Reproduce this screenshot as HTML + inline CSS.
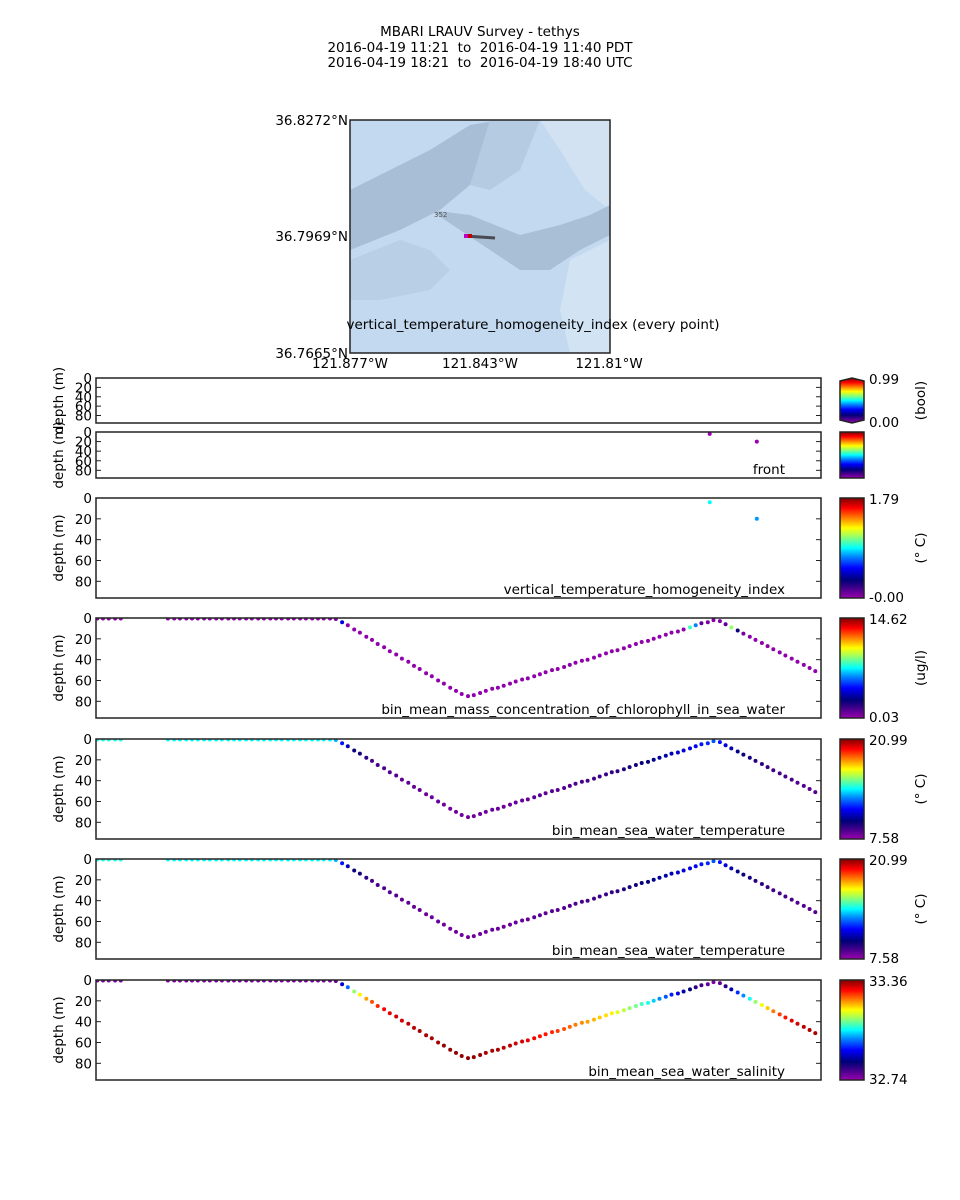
<!DOCTYPE html>
<html><head><meta charset="utf-8">
<style>
html,body{margin:0;padding:0;background:#fff;}
svg{display:block;font-family:"DejaVu Sans","Liberation Sans",sans-serif;}
</style></head>
<body>
<svg id="fig" width="960" height="1200" viewBox="0 0 960 1200" xmlns="http://www.w3.org/2000/svg">
<defs>
<linearGradient id="cmap" x1="0" y1="1" x2="0" y2="0">
<stop offset="0" stop-color="#9a00b0"/><stop offset="0.1" stop-color="#40008a"/><stop offset="0.18" stop-color="#000078"/>
<stop offset="0.3" stop-color="#0000ff"/><stop offset="0.42" stop-color="#0090ff"/><stop offset="0.5" stop-color="#00ffff"/>
<stop offset="0.62" stop-color="#a0ff60"/><stop offset="0.7" stop-color="#ffff00"/><stop offset="0.8" stop-color="#ff8000"/>
<stop offset="0.9" stop-color="#ff0000"/><stop offset="1" stop-color="#800000"/>
</linearGradient>
<clipPath id="mapclip"><rect x="350" y="120" width="260" height="233"/></clipPath>
</defs>
<g font-size="13.5" text-anchor="middle" fill="#000">
<text x="480" y="36">MBARI LRAUV Survey - tethys</text>
<text x="480" y="52">2016-04-19 11:21&#160; to &#160;2016-04-19 11:40 PDT</text>
<text x="480" y="67">2016-04-19 18:21&#160; to &#160;2016-04-19 18:40 UTC</text>
</g>
<g>
<g clip-path="url(#mapclip)">
<rect x="350" y="120" width="260" height="233" fill="#c3d9ef"/>
<polygon points="540,120 610,120 610,210 585,190 560,150" fill="#d3e2f3"/>
<polygon points="350,190 390,170 430,150 470,125 500,120 520,150 470,185 440,210 400,230 350,250" fill="#a7bed6"/>
<polygon points="430,210 470,215 520,235 560,225 590,215 610,205 610,235 580,250 550,270 520,270 490,250 460,230" fill="#a9bfd6"/>
<polygon points="350,260 400,240 430,250 450,270 430,290 380,300 350,300" fill="#b8cfe6"/>
<polygon points="570,260 610,240 610,353 570,353 560,310" fill="#d2e3f4"/>
<polygon points="490,120 540,120 520,170 490,190 470,185" fill="#b5cbe2"/>
</g>
<rect x="350" y="120" width="260" height="233" fill="none" stroke="#222" stroke-width="1.5"/>
<text x="434" y="217" font-size="7" fill="#555">352</text>
<line x1="465" y1="236" x2="495" y2="238" stroke="#4a4a55" stroke-width="3"/>
<rect x="464" y="234" width="4" height="4" fill="#c000c0"/><rect x="468" y="234" width="4" height="4" fill="#c00000"/>
<g font-size="13.5" fill="#000">
<text x="348" y="125" text-anchor="end">36.8272°N</text>
<text x="348" y="241" text-anchor="end">36.7969°N</text>
<text x="348" y="358" text-anchor="end">36.7665°N</text>
<text x="350" y="368" text-anchor="middle">121.877°W</text>
<text x="480" y="368" text-anchor="middle">121.843°W</text>
<text x="609" y="368" text-anchor="middle">121.81°W</text>
<text x="533" y="329" text-anchor="middle">vertical_temperature_homogeneity_index (every point)</text>
</g>
</g>
<g id="panels"></g>
</svg>
<script>
// elapsed seconds from 11:21 PDT
const times = [2,11,20,30,39,
113,123,132,142,151,160,170,179,189,198,208,217,226,236,245,255,264,274,283,292,302,311,321,330,340,349,358,368,377,
387,396,406,415,425,434,443,453,462,472,481,491,500,509,519,528,538,547,557,566,575,585,
594,604,613,623,632,641,651,660,670,679,689,698,707,717,726,736,745,754,764,773,783,792,802,811,820,830,839,849,858,868,877,886,896,905,915,924,934,943,952,962,971,
981,990,999,1009,1018,1028,1037,1047,1056,1065,1075,1084,1094,1103,1113,1122,1131];
const depths = [0.5,0.5,0.5,0.5,0.5,
0.5,0.5,0.5,0.5,0.5,0.5,0.5,0.5,0.5,0.5,0.5,0.5,0.5,0.5,0.5,0.5,0.5,0.5,0.5,0.5,0.5,0.5,0.5,0.5,0.5,0.5,0.5,0.5,1,
4,7,11,14,18,21,25,28,32,35,39,42,46,49,53,56,60,63,67,70,73,75,
74,72,70,68,67,65,63,61,59,58,56,54,52,50,49,47,45,43,41,40,38,36,34,32,31,29,27,25,23,22,20,18,16,14,13,11,9,7,5,4,2,
3,6,9,12,15,18,21,24,27,30,33,36,39,42,45,48,51];
const chl = [0.2,0.2,0.2,0.2,0.2,
0.2,0.2,0.2,0.2,0.2,0.2,0.2,0.2,0.2,0.2,0.2,0.2,0.2,0.2,0.2,0.2,0.2,0.2,0.2,0.2,0.2,0.2,0.2,0.2,0.2,0.2,0.2,0.2,0.4,
4.0,0.2,0.2,0.2,0.2,0.2,0.2,0.2,0.2,0.2,0.2,0.2,0.2,0.2,0.2,0.2,0.2,0.2,0.2,0.2,0.2,0.2,
0.2,0.2,0.2,0.2,0.2,0.2,0.2,0.2,0.2,0.2,0.2,0.2,0.2,0.2,0.2,0.2,0.2,0.2,0.2,0.2,0.2,0.2,0.2,0.2,0.2,0.2,0.2,0.2,0.2,0.2,0.2,0.2,0.2,0.2,0.2,0.3,8.0,6.0,1.0,0.6,0.4,
0.4,1.0,9.0,2.5,0.6,0.3,0.2,0.2,0.2,0.2,0.2,0.2,0.2,0.2,0.2,0.2,0.2];
const temp = [14.5,14.5,14.5,14.5,14.5,
14.3,14.3,14.3,14.3,14.3,14.3,14.3,14.3,14.3,14.3,14.3,14.3,14.3,14.3,14.3,14.3,14.3,14.3,14.3,14.3,14.3,14.3,14.3,14.3,14.3,14.3,14.3,14.3,13.5,
11.8,10.8,9.8,9.6,9.2,8.9,8.8,8.7,8.6,8.6,8.5,8.5,8.4,8.4,8.3,8.3,8.3,8.2,8.2,8.2,8.2,8.2,
8.2,8.2,8.2,8.3,8.3,8.3,8.3,8.4,8.4,8.4,8.5,8.5,8.5,8.6,8.6,8.6,8.7,8.7,8.8,8.8,8.9,8.9,9.0,9.1,9.2,9.4,9.5,9.7,9.9,10.1,10.3,10.5,10.6,10.8,11.0,11.1,11.3,11.5,11.8,12.0,12.5,
11.8,11.2,10.7,10.2,9.8,9.6,9.4,9.2,9.0,9.0,8.9,8.8,8.8,8.7,8.7,8.6,8.6];
const sal = [32.76,32.76,32.76,32.76,32.76,
32.76,32.76,32.76,32.76,32.76,32.76,32.76,32.76,32.76,32.76,32.76,32.76,32.76,32.76,32.76,32.76,32.76,32.76,32.76,32.76,32.76,32.76,32.76,32.76,32.76,32.76,32.76,32.76,32.78,
32.90,32.98,33.12,33.18,33.22,33.26,33.28,33.30,33.31,33.32,33.32,33.33,33.33,33.34,33.34,33.34,33.34,33.35,33.35,33.35,33.35,33.35,
33.35,33.35,33.34,33.34,33.34,33.33,33.33,33.32,33.32,33.31,33.30,33.29,33.29,33.28,33.27,33.26,33.25,33.24,33.23,33.22,33.21,33.20,33.19,33.18,33.16,33.14,33.12,33.10,33.08,33.06,33.03,33.00,32.97,32.94,32.91,32.88,32.85,32.82,32.80,32.78,32.76,
32.78,32.82,32.88,32.95,33.00,33.06,33.12,33.17,33.20,33.24,33.27,33.29,33.31,33.32,33.33,33.34,33.34];
const frontTimes = [965,1039];
const frontDepths = [4,20];
const frontVals = [0.0,0.0];
const vthiVals = [0.9,0.76];
const depthTicks = [0,20,40,60,80];

const svgNS = "http://www.w3.org/2000/svg";
const root = document.getElementById('panels');
const X0 = 96, X1 = 821, TMAX = 1140, DMAX = 96;
const stops = [[0,[154,0,176]],[0.1,[64,0,138]],[0.18,[0,0,120]],[0.3,[0,0,255]],[0.42,[0,144,255]],[0.5,[0,255,255]],[0.62,[160,255,96]],[0.7,[255,255,0]],[0.8,[255,128,0]],[0.9,[255,0,0]],[1,[128,0,0]]];
function cmap(f){f=Math.max(0,Math.min(1,f));for(let i=1;i<stops.length;i++){if(f<=stops[i][0]){const a=stops[i-1],b=stops[i];const u=(f-a[0])/(b[0]-a[0]);const c=a[1].map((v,k)=>Math.round(v+(b[1][k]-v)*u));return `rgb(${c[0]},${c[1]},${c[2]})`;}}return 'rgb(128,0,0)';}
function xScale(t){return X0+(t/TMAX)*(X1-X0);}
function mk(tag,attrs,parent){const e=document.createElementNS(svgNS,tag);for(const k in attrs)e.setAttribute(k,attrs[k]);(parent||root).appendChild(e);return e;}

const panels = [
 {name:'panel-bool',y:378,h:45,small:true,label:'',cb:{min:'0.99',max:'0.00',unit:'(bool)',arrows:true},series:null},
 {name:'panel-front',y:432,h:46,small:true,label:'front',cb:{},series:{t:frontTimes,d:frontDepths,v:frontVals,lo:0,hi:1}},
 {name:'panel-vthi',y:498,h:100,label:'vertical_temperature_homogeneity_index',cb:{min:'1.79',max:'-0.00',unit:'(\u00b0 C)'},series:{t:frontTimes,d:frontDepths,v:vthiVals,lo:0,hi:1.79}},
 {name:'panel-chlorophyll',y:618,h:100,label:'bin_mean_mass_concentration_of_chlorophyll_in_sea_water',cb:{min:'14.62',max:'0.03',unit:'(ug/l)'},series:{t:times,d:depths,v:chl,lo:0.03,hi:14.62}},
 {name:'panel-temperature-1',y:739,h:100,label:'bin_mean_sea_water_temperature',cb:{min:'20.99',max:'7.58',unit:'(\u00b0 C)'},series:{t:times,d:depths,v:temp,lo:7.58,hi:20.99}},
 {name:'panel-temperature-2',y:859,h:100,label:'bin_mean_sea_water_temperature',cb:{min:'20.99',max:'7.58',unit:'(\u00b0 C)'},series:{t:times,d:depths,v:temp,lo:7.58,hi:20.99}},
 {name:'panel-salinity',y:980,h:100,label:'bin_mean_sea_water_salinity',cb:{min:'33.36',max:'32.74',unit:''},series:{t:times,d:depths,v:sal,lo:32.74,hi:33.36}}
];

panels.forEach((p,pi)=>{
  const g = mk('g',{});
  
  
  const yS = d => p.y + (d/DMAX)*p.h;
  const cid = 'clip'+pi;
  const cp = mk('clipPath',{id:cid},g); mk('rect',{x:X0,y:p.y,width:X1-X0,height:p.h},cp);
  depthTicks.forEach(d=>{
    const yy=yS(d);
    mk('line',{x1:X0,y1:yy,x2:X0+5,y2:yy,stroke:'#222','stroke-width':1},g);
    mk('line',{x1:X1-5,y1:yy,x2:X1,y2:yy,stroke:'#222','stroke-width':1},g);
    const t=mk('text',{x:X0-4,y:yy+5,'text-anchor':'end','font-size':13.5},g);
    t.textContent=d;
    
    
  });
  const yl = mk('text',{x:0,y:0,'text-anchor':'middle','font-size':13.5,transform:`translate(63,${p.y+p.h/2}) rotate(-90)`},g);
  yl.textContent='depth (m)';
  
  
  if(p.series){
    const s=p.series; const dg=mk('g',{'clip-path':`url(#${cid})`},g);
    for(let i=0;i<s.t.length;i++){
      const c=mk('circle',{cx:xScale(s.t[i]).toFixed(1),cy:yS(s.d[i]).toFixed(1),r:2,fill:cmap((s.v[i]-s.lo)/(s.hi-s.lo))},dg);
      
      
    }
  }
  mk('rect',{x:X0,y:p.y,width:X1-X0,height:p.h,fill:'none',stroke:'#222','stroke-width':1.5},g);
  if(p.label){const lt=mk('text',{x:785,y:p.y+p.h-4,'text-anchor':'end','font-size':13.5},g);lt.textContent=p.label;
    
    }
  const cb=mk('g',{},g);
  
  
  if(p.cb.arrows){
    mk('polygon',{points:`840,${p.y+3} 852,${p.y} 864,${p.y+3} 864,${p.y+p.h-3} 852,${p.y+p.h} 840,${p.y+p.h-3}`,fill:'url(#cmap)',stroke:'#222','stroke-width':1.5},cb);
  } else {
    mk('rect',{x:840,y:p.y,width:24,height:p.h,fill:'url(#cmap)',stroke:'#222','stroke-width':1.5},cb);
  }
  if(p.cb.min!==undefined){
    const a=mk('text',{x:869,y:p.y+6,'font-size':13.5},cb);a.textContent=p.cb.min;
    const b=mk('text',{x:869,y:p.y+p.h+4,'font-size':13.5},cb);b.textContent=p.cb.max;
    if(p.cb.unit){const u=mk('text',{x:0,y:0,'text-anchor':'middle','font-size':13.5,transform:`translate(925,${p.y+p.h/2}) rotate(-90)`},cb);u.textContent=p.cb.unit;}
  }
});
</script>
</body></html>
